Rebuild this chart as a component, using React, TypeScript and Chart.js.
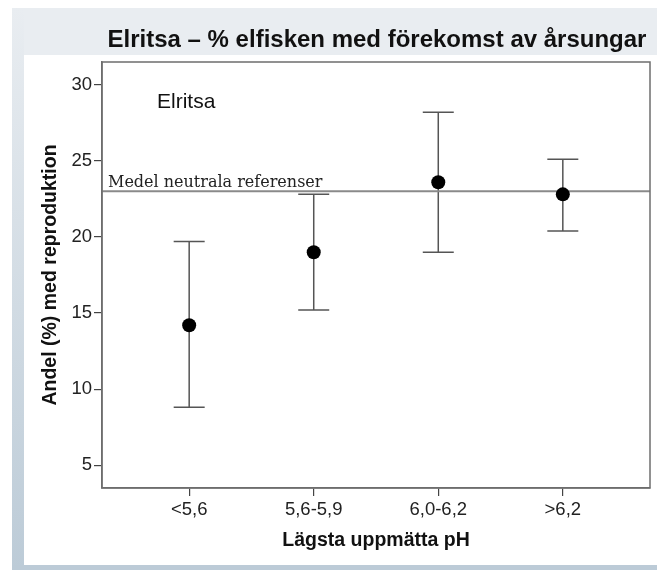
import React, { useEffect, useRef } from "react";
import { Chart, registerables } from "chart.js";
Chart.register(...registerables);

const chartTitle = "Elritsa – % elfisken med förekomst av årsungar";
const innerLabel = "Elritsa";
const referenceLabel = "Medel neutrala referenser";
const xAxisTitle = "Lägsta uppmätta pH";
const yAxisTitle = "Andel (%) med reproduktion";
const categories = ["<5,6", "5,6-5,9", "6,0-6,2", ">6,2"];
const means = [14.2, 19.0, 23.6, 22.8];
const lowerCI = [8.8, 15.2, 19.0, 20.4];
const upperCI = [19.7, 22.8, 28.2, 25.1];
const referenceValue = 23.0;
const yTickValues = [5, 10, 15, 20, 25, 30];

const W = 657;
const H = 570;
const X_MIN = -0.7;
const X_MAX = 3.7;
const Y_MIN = 3.5;
const Y_MAX = 31.5;
const SANS = "'Liberation Sans', Arial, sans-serif";

const decor = {
  id: "decor",
  beforeDraw(chart: any) {
    const ctx = chart.ctx;
    ctx.save();
    ctx.fillStyle = "#ffffff";
    ctx.fillRect(0, 0, W, H);
    ctx.fillStyle = "#e9edf1";
    ctx.fillRect(12, 8, W - 12, 47);
    const g = ctx.createLinearGradient(0, 8, 0, 570);
    g.addColorStop(0, "#e9edf1");
    g.addColorStop(1, "#bccbd7");
    ctx.fillStyle = g;
    ctx.fillRect(12, 8, 12, 562);
    ctx.fillStyle = "#bccbd7";
    ctx.fillRect(12, 565, W - 12, 5);
    ctx.fillStyle = "#111111";
    ctx.font = `bold 24px ${SANS}`;
    ctx.textAlign = "center";
    ctx.textBaseline = "alphabetic";
    ctx.fillText(chartTitle, 377, 47);
    ctx.restore();
  },
  beforeDatasetsDraw(chart: any) {
    const ctx = chart.ctx;
    const xs = chart.scales.x;
    const ys = chart.scales.y;
    ctx.save();
    ctx.strokeStyle = "#555555";
    ctx.lineWidth = 1.5;
    categories.forEach((_, i) => {
      const x = xs.getPixelForValue(i);
      const yl = ys.getPixelForValue(lowerCI[i]);
      const yu = ys.getPixelForValue(upperCI[i]);
      ctx.beginPath();
      ctx.moveTo(x, yl);
      ctx.lineTo(x, yu);
      ctx.moveTo(x - 15.5, yl);
      ctx.lineTo(x + 15.5, yl);
      ctx.moveTo(x - 15.5, yu);
      ctx.lineTo(x + 15.5, yu);
      ctx.stroke();
    });
    ctx.restore();
  },
  afterDraw(chart: any) {
    const ctx = chart.ctx;
    const a = chart.chartArea;
    const ys = chart.scales.y;
    ctx.save();
    ctx.strokeStyle = "#6e6e6e";
    ctx.lineWidth = 1.5;
    ctx.strokeRect(a.left, a.top, a.right - a.left, a.bottom - a.top);
    ctx.fillStyle = "#111111";
    ctx.font = `21px ${SANS}`;
    ctx.textAlign = "left";
    ctx.textBaseline = "alphabetic";
    ctx.fillText(innerLabel, a.left + 55, a.top + 46);
    ctx.font = "16px 'DejaVu Serif', serif";
    ctx.fillStyle = "#222222";
    ctx.fillText(referenceLabel, a.left + 6, ys.getPixelForValue(referenceValue) - 4);
    ctx.restore();
  },
};

export default function App() {
  const ref = useRef<HTMLCanvasElement | null>(null);
  useEffect(() => {
    if (!ref.current) return;
    const chart = new Chart(ref.current, {
      type: "scatter",
      data: {
        datasets: [
          {
            type: "scatter",
            data: means.map((m, i) => ({ x: i, y: m })),
            pointRadius: 7,
            pointHoverRadius: 7,
            backgroundColor: "#000000",
            borderWidth: 0,
          },
          {
            type: "line",
            data: [
              { x: X_MIN, y: referenceValue },
              { x: X_MAX, y: referenceValue },
            ],
            borderColor: "#8a8a8a",
            borderWidth: 2,
            pointRadius: 0,
            fill: false,
          },
        ],
      } as any,
      options: {
        animation: false,
        responsive: false,
        layout: { padding: { left: 24, top: 62, right: 6, bottom: 5 } },
        plugins: { legend: { display: false }, tooltip: { enabled: false } },
        scales: {
          x: {
            type: "linear",
            min: X_MIN,
            max: X_MAX,
            afterBuildTicks: (s: any) => {
              s.ticks = categories.map((_, i) => ({ value: i }));
            },
            afterFit: (s: any) => {
              s.height = 77;
            },
            ticks: {
              autoSkip: false,
              maxRotation: 0,
              color: "#222222",
              font: { family: SANS, size: 18.5 },
              padding: 3,
              callback: (v: any) => categories[Math.round(Number(v))] ?? "",
            },
            grid: { drawOnChartArea: false, drawTicks: true, tickLength: 8, color: "#444444", lineWidth: 1.2 },
            border: { display: true, color: "#6e6e6e", width: 1.5 },
            title: {
              display: true,
              text: xAxisTitle,
              color: "#111111",
              font: { family: SANS, size: 19.5, weight: "bold" },
              padding: { top: 0, bottom: 13 },
            },
          },
          y: {
            type: "linear",
            min: Y_MIN,
            max: Y_MAX,
            afterBuildTicks: (s: any) => {
              s.ticks = yTickValues.map((v) => ({ value: v }));
            },
            afterFit: (s: any) => {
              s.width = 78;
            },
            ticks: {
              color: "#222222",
              font: { family: SANS, size: 18.5 },
              padding: 2,
            },
            grid: { drawOnChartArea: false, drawTicks: true, tickLength: 8, color: "#444444", lineWidth: 1.2 },
            border: { display: true, color: "#6e6e6e", width: 1.5 },
            title: {
              display: true,
              text: yAxisTitle,
              color: "#111111",
              font: { family: SANS, size: 19.5, weight: "bold" },
              padding: { top: 15, bottom: 0 },
            },
          },
        },
      } as any,
      plugins: [decor],
    });
    return () => chart.destroy();
  }, []);
  return (
    <canvas
      ref={ref}
      width={W}
      height={H}
      style={{ position: "absolute", left: 0, top: 0, width: W, height: H }}
    />
  );
}
